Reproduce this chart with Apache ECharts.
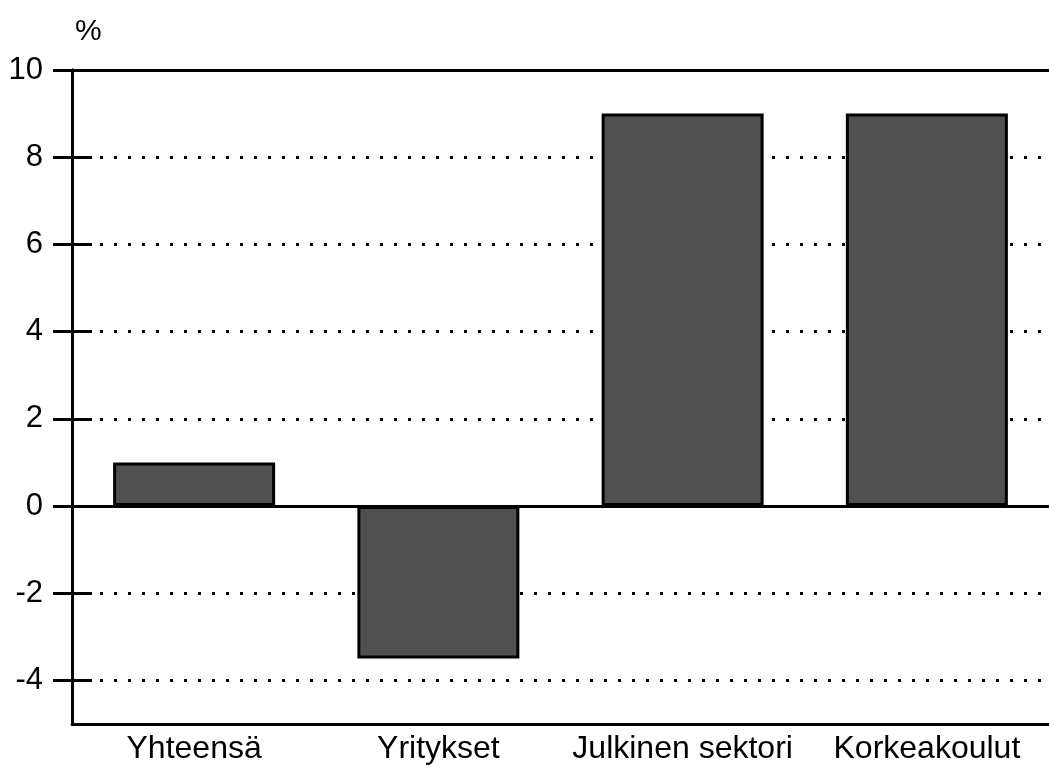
<!DOCTYPE html>
<html>
<head>
<meta charset="utf-8">
<script src="https://cdn.jsdelivr.net/npm/echarts@6/dist/echarts.min.js"></script>
<style>
html,body{margin:0;padding:0;background:#fff;}
#chart{width:1049px;height:771px;}
</style>
</head>
<body>
<div id="chart"></div>
<script>
const categories = ['Yhteensä', 'Yritykset', 'Julkinen sektori', 'Korkeakoulut'];
const values = [1.0, -3.5, 9.0, 9.0];
const yTicks = [-4, -2, 0, 2, 4, 6, 8, 10];
const dottedLevels = [-4, -2, 2, 4, 6, 8];
const solidLevels = [0, 10];
const unitLabel = '%';

const FONT = 'Liberation Sans, Arial, sans-serif';
const chart = echarts.init(document.getElementById('chart'), null, {renderer: 'canvas'});

const markData = dottedLevels.map(v => ({
  yAxis: v,
  lineStyle: {type: [3, 11], width: 3, color: '#000'}
})).concat(solidLevels.map(v => ({
  yAxis: v,
  lineStyle: {type: 'solid', width: 3, color: '#000'}
})));

const option = {
  animation: false,
  backgroundColor: '#fff',
  title: {
    text: unitLabel,
    left: 70,
    top: 12,
    textStyle: {fontFamily: FONT, fontSize: 30, fontWeight: 'normal', color: '#000'}
  },
  grid: {left: 72, top: 70, width: 986, height: 654, containLabel: false},
  xAxis: {
    type: 'category',
    data: categories,
    axisLine: {onZero: false, lineStyle: {color: '#000', width: 3}},
    axisTick: {show: false},
    axisLabel: {interval: 0, hideOverlap: false, fontFamily: FONT, fontSize: 32, color: '#000', margin: 9},
    splitLine: {show: false}
  },
  yAxis: [
    {
      type: 'value',
      min: -5,
      max: 10,
      position: 'left',
      axisLine: {show: true, lineStyle: {color: '#000', width: 3}},
      axisTick: {show: true, customValues: yTicks, inside: false, length: 19, lineStyle: {color: '#000', width: 3}},
      axisLabel: {customValues: yTicks, fontFamily: FONT, fontSize: 31, color: '#000', margin: 29},
      splitLine: {show: false}
    },
    {
      type: 'value',
      min: -5,
      max: 10,
      position: 'left',
      offset: 0,
      axisLine: {show: true, lineStyle: {color: '#000', width: 3}},
      axisTick: {show: true, customValues: yTicks, inside: true, length: 20, lineStyle: {color: '#000', width: 3}},
      axisLabel: {show: false},
      splitLine: {show: false}
    }
  ],
  series: [
    {
      type: 'bar',
      data: values,
      yAxisIndex: 0,
      barWidth: 162,
      z: 3,
      itemStyle: {color: '#505050', borderColor: '#000', borderWidth: 3},
      markLine: {
        z: 1,
        silent: true,
        symbol: ['none', 'none'],
        label: {show: false},
        emphasis: {disabled: true},
        data: markData
      }
    }
  ]
};
chart.setOption(option);
</script>
</body>
</html>
